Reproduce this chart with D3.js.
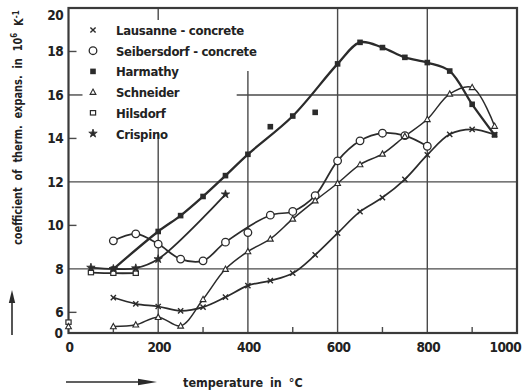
<!DOCTYPE html>
<html>
<head>
<meta charset="utf-8">
<script src="https://cdn.jsdelivr.net/npm/d3@7"></script>
<style>
  body { margin: 0; background: #fff; }
  text { font-family: "DejaVu Sans Condensed", "DejaVu Sans", sans-serif; fill: #222; }
</style>
</head>
<body>
<script>
// Data (temperature in °C, coefficient in 10^-6 K^-1)
var lausanneT = [100, 150, 200, 250, 300, 350, 400, 450, 500, 550, 600, 650, 700, 750, 800, 850, 900, 950];
var lausanneV = [6.68, 6.39, 6.27, 6.07, 6.24, 6.70, 7.23, 7.46, 7.80, 8.64, 9.64, 10.63, 11.28, 12.12, 13.24, 14.19, 14.42, 14.18];

var seibersdorfT = [100, 150, 200, 250, 300, 350, 400, 450, 500, 550, 600, 650, 700, 750, 800];
var seibersdorfV = [9.29, 9.61, 9.14, 8.45, 8.37, 9.23, 9.67, 10.47, 10.64, 11.37, 12.97, 13.89, 14.24, 14.13, 13.64];

var harmathyT = [100, 200, 250, 300, 350, 400, 450, 500, 550, 600, 650, 700, 750, 800, 850, 900, 950];
var harmathyV = [7.99, 9.72, 10.45, 11.33, 12.29, 13.27, 14.54, 15.03, 15.20, 17.43, 18.42, 18.18, 17.73, 17.49, 17.10, 15.57, 14.16];

var schneiderT = [100, 150, 200, 250, 300, 350, 400, 450, 500, 550, 600, 650, 700, 750, 800, 850, 900, 950];
var schneiderV = [5.35, 5.43, 5.78, 5.38, 6.60, 7.99, 8.80, 9.38, 10.30, 11.14, 11.94, 12.80, 13.29, 14.10, 14.88, 16.05, 16.35, 14.57];

var hilsdorfT = [50, 100, 150];
var hilsdorfV = [7.83, 7.80, 7.80];

var crispinoT = [50, 100, 150, 200, 350];
var crispinoV = [8.06, 8.00, 8.03, 8.45, 11.43];

// measured points that the drawn (fitted) curve does not pass through
var seibersdorfOff = [400];
var harmathyOff = [450, 550];

// single room-temperature readings, not joined to a curve
var roomT = [0, 0];
var roomV = [5.55, 5.35];
var roomSym = ["square", "triangle"];

var seriesNames = ["Lausanne - concrete", "Seibersdorf - concrete", "Harmathy", "Schneider", "Hilsdorf", "Crispino"];
var seriesSym = ["cross", "circle", "fsquare", "triangle", "square", "star"];

var xTicks = [0, 200, 400, 600, 800, 1000];
var xMinor = [100, 300, 500, 700, 900];
var yTicks = [6, 8, 10, 12, 14, 16, 18, 20];
var yBreakLabel = "0";

var series = [
    {t: lausanneT, v: lausanneV, off: []},
    {t: seibersdorfT, v: seibersdorfV, off: seibersdorfOff},
    {t: harmathyT, v: harmathyV, off: harmathyOff},
    {t: schneiderT, v: schneiderV, off: []},
    {t: hilsdorfT, v: hilsdorfV, off: []},
    {t: crispinoT, v: crispinoV, off: []}
];
var lineWidth = [1.7, 1.7, 2.3, 1.5, 1.8, 1.8];

var width = 522;
var height = 392;
var ink = "#2b2b2b";
var gridInk = "#4a4a4a";

//Canvas
var svg = d3.select("body")
.append("svg")
    .attr("width", width)
    .attr("height", height);

//Scales
var x = d3.scaleLinear()
    .domain([0, 1000])
    .range([68.5, 517]);

var y = d3.scaleLinear()
    .domain([5.05, 20])
    .range([333, 8]);

//Grid (parts hidden behind the legend are left out)
var g = svg.append("g");

g.append("line").attr("x1", x(200)).attr("x2", x(200)).attr("y1", y(20)).attr("y2", y(19.45));
g.append("line").attr("x1", x(200)).attr("x2", x(200)).attr("y1", y(14.3)).attr("y2", y(5.05));
g.append("line").attr("x1", x(400)).attr("x2", x(400)).attr("y1", y(17.1)).attr("y2", y(5.05));
[600, 800].forEach(function(t) {
    g.append("line").attr("x1", x(t)).attr("x2", x(t)).attr("y1", y(20)).attr("y2", y(5.05));
});
[8, 12].forEach(function(v) {
    g.append("line").attr("x1", x(0)).attr("x2", x(1000)).attr("y1", y(v)).attr("y2", y(v));
});
g.append("line").attr("x1", x(0)).attr("x2", x(0) + 14).attr("y1", y(16)).attr("y2", y(16));
g.append("line").attr("x1", x(375)).attr("x2", x(1000)).attr("y1", y(16)).attr("y2", y(16));

// short inner ticks
[6, 10, 14, 18].forEach(function(v) {
    g.append("line").attr("x1", x(0)).attr("x2", x(0) + 8).attr("y1", y(v)).attr("y2", y(v));
});
xMinor.forEach(function(t) {
    g.append("line").attr("x1", x(t)).attr("x2", x(t)).attr("y1", y(5.05)).attr("y2", y(5.05) - 6);
});
g.selectAll("line").attr("stroke", gridInk).attr("stroke-width", 1.4);

// frame
svg.append("rect")
    .attr("x", x(0)).attr("y", y(20))
    .attr("width", x(1000) - x(0)).attr("height", y(5.05) - y(20))
    .attr("fill", "none").attr("stroke", "#3a3a3a").attr("stroke-width", 2.2);

//Tick labels
svg.selectAll(".xlab").data(xTicks).enter()
    .append("text")
    .attr("class", "xlab")
    .attr("x", d => d === 1000 ? x(d) + 4 : x(d) + 1)
    .attr("y", 352)
    .attr("text-anchor", d => d === 1000 ? "end" : "middle")
    .attr("font-size", 13.5)
    .attr("font-weight", "bold")
    .attr("letter-spacing", -0.6)
    .text(d => d);

svg.selectAll(".ylab").data(yTicks).enter()
    .append("text")
    .attr("class", "ylab")
    .attr("x", 63)
    .attr("y", d => d === 20 ? y(d) + 12 : y(d) + 5)
    .attr("text-anchor", "end")
    .attr("font-size", 13.5)
    .attr("font-weight", "bold")
    .attr("letter-spacing", -0.6)
    .text(d => d);

svg.append("text")
    .attr("x", 63)
    .attr("y", y(5.05) + 5)
    .attr("text-anchor", "end")
    .attr("font-size", 13.5)
    .attr("font-weight", "bold")
    .text(yBreakLabel);

//Markers
function marker(sel, type, cx, cy) {
    var m = sel.append("g").attr("transform", "translate(" + cx + "," + cy + ")");
    if (type === "cross") {
        m.append("path").attr("d", "M-2.6,-2.6L2.6,2.6M-2.6,2.6L2.6,-2.6")
            .attr("stroke", ink).attr("stroke-width", 1.4);
    } else if (type === "circle") {
        m.append("circle").attr("r", 3.8)
            .attr("fill", "#fff").attr("stroke", ink).attr("stroke-width", 1.3);
    } else if (type === "fsquare") {
        m.append("rect").attr("x", -2.8).attr("y", -2.8).attr("width", 5.6).attr("height", 5.6)
            .attr("fill", ink);
    } else if (type === "square") {
        m.append("rect").attr("x", -2.6).attr("y", -2.2).attr("width", 5.2).attr("height", 4.4)
            .attr("fill", "#fff").attr("stroke", ink).attr("stroke-width", 1.2);
    } else if (type === "triangle") {
        m.append("path").attr("d", "M0,-3L2.9,2.3L-2.9,2.3Z")
            .attr("fill", "#fff").attr("stroke", ink).attr("stroke-width", 1.1);
    } else if (type === "star") {
        m.append("path").attr("d", d3.symbol().type(d3.symbolStar).size(22)())
            .attr("fill", ink).attr("stroke", ink).attr("stroke-width", 0.8);
    }
}

//Curves
var line = d3.line()
    .x(d => x(d[0]))
    .y(d => y(d[1]))
    .curve(d3.curveCatmullRom.alpha(0.5));

var plot = svg.append("g");
series.forEach(function(s, i) {
    var pts = s.t.map((t, j) => [t, s.v[j]]).filter(d => s.off.indexOf(d[0]) < 0);
    plot.append("path")
        .attr("d", line(pts))
        .attr("fill", "none")
        .attr("stroke", ink)
        .attr("stroke-width", lineWidth[i]);
});
series.forEach(function(s, i) {
    s.t.forEach(function(t, j) {
        marker(plot, seriesSym[i], x(t), y(s.v[j]));
    });
});
roomT.forEach(function(t, j) {
    marker(plot, roomSym[j], x(t), y(roomV[j]));
});

//Legend
var legend = svg.append("g");
seriesNames.forEach(function(name, i) {
    var ly = 30 + i * 20.7;
    marker(legend, seriesSym[i], 93, ly);
    legend.append("text")
        .attr("x", 116)
        .attr("y", ly + 5)
        .attr("font-size", 13)
        .attr("font-weight", "bold")
        .attr("letter-spacing", -0.3)
        .text(name);
});

//Axis titles
var yTitle = svg.append("text")
    .attr("font-size", 13)
    .attr("font-weight", "bold")
    .attr("word-spacing", 4)
    .html("coefficient of therm. expans. in 10<tspan dy='-0.45em' font-size='0.72em'>6</tspan><tspan dy='0.45em'> K</tspan><tspan dy='-0.45em' font-size='0.72em'>-1</tspan>");
// squeeze the title along its length so it runs from y = 245 up to y = 10
var titleLen = yTitle.node().getBBox().width;
yTitle.attr("transform", "translate(21.5, 245) rotate(-90) scale(" + (235 / titleLen) + ",1)");

svg.append("text")
    .attr("x", 183)
    .attr("y", 387)
    .attr("font-size", 12.5)
    .attr("font-weight", "bold")
    .attr("word-spacing", 3)
    .text("temperature in °C");

// arrows
svg.append("line").attr("x1", 12).attr("x2", 12).attr("y1", 335).attr("y2", 300)
    .attr("stroke", ink).attr("stroke-width", 1.6);
svg.append("path").attr("d", "M12,290L8.8,303L15.2,303Z").attr("fill", ink);
svg.append("line").attr("x1", 66).attr("x2", 145).attr("y1", 382).attr("y2", 382)
    .attr("stroke", ink).attr("stroke-width", 1.4);
svg.append("path").attr("d", "M157,382L138,378.8L138,385.2Z").attr("fill", ink);
</script>
</body>
</html>
